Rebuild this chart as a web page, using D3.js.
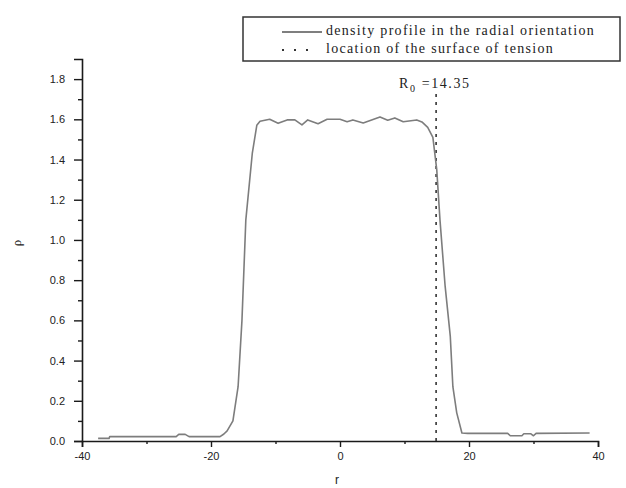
<!DOCTYPE html>
<html>
<head>
<meta charset="utf-8">
<script src="https://cdn.jsdelivr.net/npm/d3@7/dist/d3.min.js"></script>
<style>
  html, body { margin: 0; padding: 0; background: #fff; }
  svg { display: block; }
  .tick text { font-family: "Liberation Sans", "DejaVu Sans", sans-serif; font-size: 11px; fill: #222; }
</style>
</head>
<body>
<svg id="chart" width="626" height="488"></svg>
<script>
// ---- data ----
const profileR = [-37.5, -35.8, -35.7, -25.4, -25.0, -24.0, -23.4, -18.6, -18.0, -17.5, -16.6, -15.8, -15.2, -14.6, -13.6, -12.9, -12.4, -10.9, -9.6, -8.2, -7.0, -5.9, -5.0, -3.4, -2.0, 0.0, 1.1, 2.0, 3.6, 6.2, 7.4, 8.5, 9.8, 11.9, 12.7, 13.6, 14.4, 15.0, 15.5, 16.3, 17.1, 17.5, 18.1, 18.9, 19.8, 26.0, 26.4, 28.2, 28.5, 29.6, 30.0, 30.4, 38.7];
const profileRho = [0.013, 0.013, 0.022, 0.022, 0.033, 0.033, 0.022, 0.022, 0.035, 0.05, 0.10, 0.27, 0.60, 1.10, 1.43, 1.57, 1.59, 1.60, 1.58, 1.597, 1.597, 1.572, 1.597, 1.578, 1.60, 1.60, 1.588, 1.597, 1.582, 1.612, 1.595, 1.607, 1.588, 1.597, 1.587, 1.56, 1.51, 1.35, 1.10, 0.77, 0.52, 0.27, 0.14, 0.04, 0.038, 0.038, 0.026, 0.026, 0.036, 0.036, 0.026, 0.038, 0.04];
const surfaceR = 14.9;
const surfaceLabel = "14.35";
const xTicks = [-40, -20, 0, 20, 40];
const xMinorTicks = [-30, -10, 10, 30];
const yTicks = [0.0, 0.2, 0.4, 0.6, 0.8, 1.0, 1.2, 1.4, 1.6, 1.8];
const yMinorTicks = [0.1, 0.3, 0.5, 0.7, 0.9, 1.1, 1.3, 1.5, 1.7];
const legendLabels = ["density profile in the radial orientation", "location of the surface of tension"];

// ---- layout ----
const svg = d3.select("#chart");
const x = d3.scaleLinear().domain([-40, 40]).range([82, 598]);
const y = d3.scaleLinear().domain([0, 1.9]).range([441, 59]);
const axisColor = "#1a1a1a";

// bottom axis
const gx = svg.append("g").attr("transform", `translate(0,${y(0)})`);
gx.call(d3.axisBottom(x).tickValues(xTicks).tickSize(6).tickPadding(5).tickFormat(d => String(d)));
gx.append("g").call(d3.axisBottom(x).tickValues(xMinorTicks).tickSize(3).tickFormat(""))
  .select(".domain").remove();
gx.selectAll("path.domain").attr("stroke", axisColor).attr("stroke-width", 1.6);
gx.selectAll(".tick line").attr("stroke", axisColor).attr("stroke-width", 1.4);

// left axis
const gy = svg.append("g").attr("transform", `translate(${x(-40)},0)`);
gy.call(d3.axisLeft(y).tickValues(yTicks).tickSize(8).tickPadding(9).tickFormat(d3.format(".1f")));
gy.append("g").call(d3.axisLeft(y).tickValues(yMinorTicks).tickSize(4).tickFormat(""))
  .select(".domain").remove();
gy.selectAll("path.domain").attr("stroke", axisColor).attr("stroke-width", 1.6);
gy.selectAll(".tick line").attr("stroke", axisColor).attr("stroke-width", 1.4);

// axis titles
svg.append("text")
  .attr("transform", `translate(21,243) rotate(-90)`)
  .attr("text-anchor", "middle")
  .style("font-family", "Liberation Serif, serif").style("font-size", "13px").attr("fill", "#222")
  .text("ρ");
svg.append("text")
  .attr("x", 337).attr("y", 484).attr("text-anchor", "middle")
  .style("font-family", "Liberation Sans, sans-serif").style("font-size", "12px").attr("fill", "#222")
  .text("r");

// surface of tension line
svg.append("line")
  .attr("x1", x(surfaceR)).attr("x2", x(surfaceR))
  .attr("y1", y(0)).attr("y2", 92)
  .attr("stroke", "#333").attr("stroke-width", 1.6).attr("stroke-dasharray", "3,5");

// annotation
const ann = svg.append("text").attr("x", 399).attr("y", 88)
  .style("font-family", "Liberation Serif, serif").style("font-size", "14px")
  .style("letter-spacing", "1.6px").attr("fill", "#222");
ann.append("tspan").text("R");
ann.append("tspan").attr("dy", 4).style("font-size", "10px").text("0");
ann.append("tspan").attr("dy", -4).text(" =" + surfaceLabel);

// density profile
const line = d3.line().x((d, i) => x(profileR[i])).y((d, i) => y(profileRho[i]));
svg.append("path")
  .datum(profileR)
  .attr("d", line)
  .attr("fill", "none").attr("stroke", "#7d7d7d").attr("stroke-width", 1.6)
  .attr("stroke-linejoin", "round");

// legend
const lg = svg.append("g");
lg.append("rect").attr("x", 243).attr("y", 17).attr("width", 377).attr("height", 44)
  .attr("fill", "#fff").attr("stroke", "#333").attr("stroke-width", 1.5);
lg.append("line").attr("x1", 282).attr("x2", 322).attr("y1", 32).attr("y2", 32)
  .attr("stroke", "#555").attr("stroke-width", 1.5);
lg.append("line").attr("x1", 282).attr("x2", 312).attr("y1", 50).attr("y2", 50)
  .attr("stroke", "#333").attr("stroke-width", 2).attr("stroke-dasharray", "2,10");
lg.selectAll("text.leg").data(legendLabels).enter().append("text")
  .attr("class", "leg")
  .attr("x", 326).attr("y", (d, i) => 35 + i * 18)
  .style("font-family", "Liberation Serif, serif").style("font-size", "14px")
  .style("letter-spacing", "1.3px").attr("fill", "#222")
  .text(d => d);
</script>
</body>
</html>
